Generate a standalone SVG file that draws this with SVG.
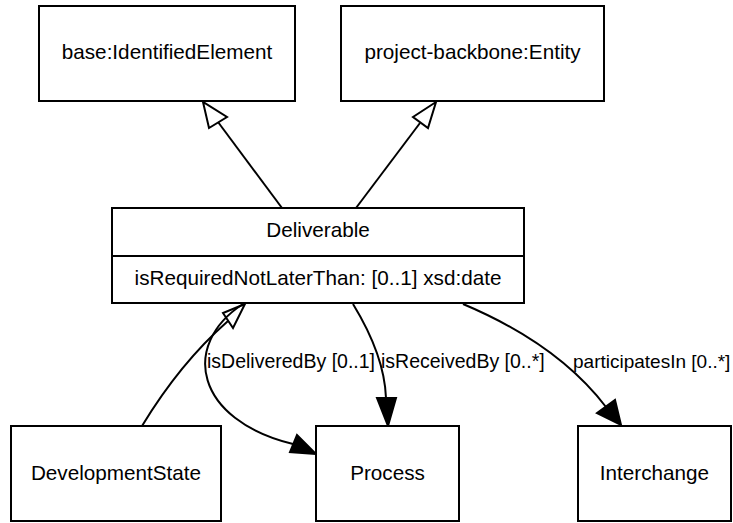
<svg xmlns="http://www.w3.org/2000/svg" width="733" height="523" viewBox="0 0 733 523">
<style>
.box{fill:#fff;stroke:#000;stroke-width:2}
.t{font-family:"Liberation Sans",Arial,sans-serif;font-size:20.7px;fill:#000;text-anchor:middle}
.lbl{font-family:"Liberation Sans",Arial,sans-serif;font-size:19.5px;fill:#000}
.e{fill:none;stroke:#000;stroke-width:2}
.hollow{fill:#fff;stroke:#000;stroke-width:2;stroke-linejoin:miter}
.solid{fill:#000;stroke:#000;stroke-width:2}
</style>
<rect width="733" height="523" fill="#fff"/>
<g id="connectors">
<path class="e" d="M282,208 L218,122"/>
<polygon class="hollow" points="203,102 209,128 227,117"/>
<path class="e" d="M356,208 L420,123"/>
<polygon class="hollow" points="436,102 413,117 428,128"/>
<path class="e" d="M142,426 C165,388 195,350 228,321"/>
<polygon class="hollow" points="245,304 223,313 233,328"/>
<path class="e" d="M243,304 C180,345 195,420 293,444"/>
<polygon class="solid" points="316,454 290,452 297,435"/>
<path class="e" d="M353,304 C375,340 385,370 386,398"/>
<polygon class="solid" points="377,398 396,398 388,426"/>
<path class="e" d="M463,304 C520,328 570,360 606,407"/>
<polygon class="solid" points="597,413 615,400 621,425"/>
<text class="lbl" x="207" y="368">isDeliveredBy [0..1]</text>
<text class="lbl" x="381" y="368">isReceivedBy [0..*]</text>
<text class="lbl" x="573" y="368" style="font-size:19px">participatesIn [0..*]</text>
</g>
<g id="base-IdentifiedElement">
<rect class="box" x="39" y="6" width="256" height="95"/>
<text class="t" x="167" y="59">base:IdentifiedElement</text>
</g>
<g id="project-backbone-Entity">
<rect class="box" x="341" y="6" width="263" height="95"/>
<text class="t" x="472.5" y="59">project-backbone:Entity</text>
</g>
<g id="Deliverable">
<rect class="box" x="112" y="208" width="412" height="95"/>
<line x1="112" y1="256" x2="524" y2="256" stroke="#000" stroke-width="2"/>
<text class="t" x="318" y="237">Deliverable</text>
<text class="t" x="318" y="285">isRequiredNotLaterThan: [0..1] xsd:date</text>
</g>
<g id="DevelopmentState">
<rect class="box" x="11" y="426" width="210" height="95"/>
<text class="t" x="116" y="480">DevelopmentState</text>
</g>
<g id="Process">
<rect class="box" x="316" y="426" width="143" height="95"/>
<text class="t" x="387.5" y="480">Process</text>
</g>
<g id="Interchange">
<rect class="box" x="578" y="426" width="153" height="95"/>
<text class="t" x="654.5" y="480">Interchange</text>
</g>
</svg>
